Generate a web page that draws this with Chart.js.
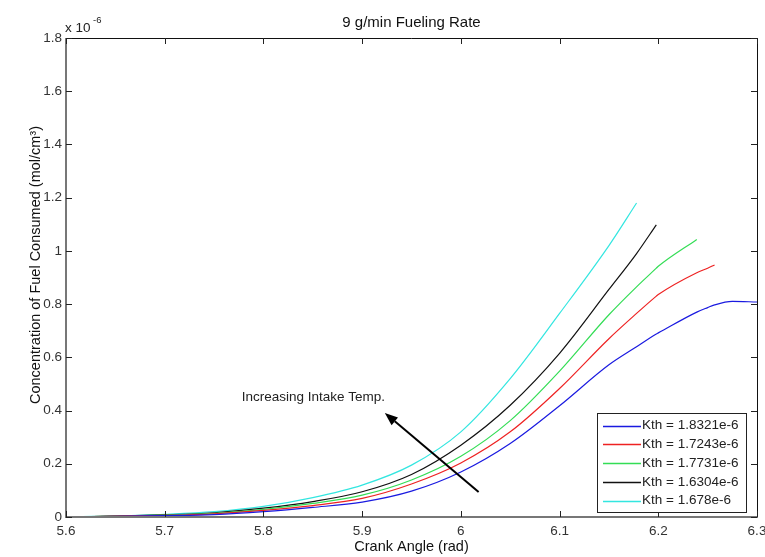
<!DOCTYPE html>
<html>
<head>
<meta charset="utf-8">
<script src="https://cdn.jsdelivr.net/npm/chart.js@4.4.1/dist/chart.umd.min.js"></script>
<style>
    html, body { margin: 0; padding: 0; background: #fff; }
    canvas { display: block; }
</style>
</head>
<body>
<canvas id="fuel-chart" width="765" height="557"></canvas>
<script>
// crank angle (rad) and fuel consumed (x 1e-6 mol/cm^3)
let crank_angle = [5.6, 5.65, 5.7, 5.75, 5.8, 5.85, 5.9, 5.95, 6.0, 6.05, 6.1, 6.15, 6.178, 6.198, 6.2, 6.239, 6.25, 6.257, 6.275, 6.3];
let kth_18321 = [0, 0.002, 0.005, 0.009, 0.02, 0.036, 0.056, 0.097, 0.169, 0.276, 0.418, 0.572, 0.64, 0.688, 0.692, 0.77, 0.787, 0.797, 0.81, 0.808];
let kth_17243 = [0, 0.003, 0.006, 0.012, 0.025, 0.043, 0.07, 0.124, 0.203, 0.32, 0.483, 0.67, 0.765, 0.83, 0.836, 0.918, 0.935, 0.947, null, null];
let kth_17731 = [0, 0.003, 0.007, 0.014, 0.029, 0.051, 0.082, 0.139, 0.228, 0.362, 0.548, 0.76, 0.865, 0.935, 0.942, 1.043, null, null, null, null];
let kth_16304 = [0, 0.003, 0.008, 0.016, 0.033, 0.058, 0.095, 0.16, 0.27, 0.42, 0.615, 0.855, 0.99, 1.098, null, null, null, null, null, null];
let kth_1678 = [0, 0.004, 0.01, 0.02, 0.04, 0.073, 0.12, 0.195, 0.32, 0.52, 0.765, 1.02, 1.18, null, null, null, null, null, null, null];

let series_labels = ['Kth = 1.8321e-6', 'Kth = 1.7243e-6', 'Kth = 1.7731e-6', 'Kth = 1.6304e-6', 'Kth = 1.678e-6'];
let series_colors = ['#1a1ae0', '#ee2222', '#33dd55', '#111111', '#33e6e0'];
let series_values = [kth_18321, kth_17243, kth_17731, kth_16304, kth_1678];

let x_ticks = [5.6, 5.7, 5.8, 5.9, 6.0, 6.1, 6.2, 6.3];
let y_ticks = [0, 0.2, 0.4, 0.6, 0.8, 1.0, 1.2, 1.4, 1.6, 1.8];

// arrow: tail -> head, and annotation start
let arrow_tail = [6.018, 0.094];
let arrow_head = [5.923, 0.391];
let note_pos = [5.778, 0.451];

const FONT = '"Liberation Sans", Arial, Helvetica, sans-serif';

function toPoints(values) {
    let points = [];
    values.forEach((v, i) => {
        if (v !== null) points.push({ x: crank_angle[i], y: v });
    });
    return points;
}

function fmtTick(v) {
    return String(Number(v.toFixed(1)));
}

const matlabAxes = {
    id: 'matlabAxes',
    afterDatasetsDraw(chart) {
        const ctx = chart.ctx;
        const a = chart.chartArea;
        const sx = chart.scales.x;
        const sy = chart.scales.y;
        ctx.save();

        // box
        ctx.lineWidth = 1;
        ctx.strokeStyle = '#111';
        ctx.beginPath();
        ctx.moveTo(a.left, a.top + 0.5);
        ctx.lineTo(a.right + 0.5, a.top + 0.5);
        ctx.lineTo(a.right + 0.5, a.bottom);
        ctx.stroke();
        ctx.lineWidth = 2;
        ctx.strokeStyle = '#777';
        ctx.beginPath();
        ctx.moveTo(a.left, a.top);
        ctx.lineTo(a.left, a.bottom);
        ctx.lineTo(a.right + 1, a.bottom);
        ctx.stroke();

        // inward ticks on all four sides
        ctx.lineWidth = 1;
        ctx.strokeStyle = '#222';
        ctx.beginPath();
        x_ticks.forEach(t => {
            let px = Math.round(sx.getPixelForValue(t)) + 0.5;
            ctx.moveTo(px, a.bottom); ctx.lineTo(px, a.bottom - 6);
            ctx.moveTo(px, a.top); ctx.lineTo(px, a.top + 6);
        });
        y_ticks.forEach(t => {
            let py = Math.round(sy.getPixelForValue(t)) + 0.5;
            ctx.moveTo(a.left, py); ctx.lineTo(a.left + 6, py);
            ctx.moveTo(a.right, py); ctx.lineTo(a.right - 6, py);
        });
        ctx.stroke();

        // exponent
        ctx.fillStyle = '#222';
        ctx.textBaseline = 'alphabetic';
        ctx.textAlign = 'left';
        ctx.font = '13.5px ' + FONT;
        ctx.fillText('x 10', a.left - 1, a.top - 6);
        ctx.font = '9.5px ' + FONT;
        ctx.fillText('-6', a.left + 27, a.top - 15);

        // y axis title
        ctx.save();
        ctx.translate(36, 265);
        ctx.rotate(-Math.PI / 2);
        ctx.textAlign = 'center';
        ctx.textBaseline = 'middle';
        ctx.font = '14.5px ' + FONT;
        ctx.fillStyle = '#111';
        ctx.fillText('Concentration of Fuel Consumed (mol/cm\u00b3)', 0, 0);
        ctx.restore();

        // annotation text + arrow
        ctx.font = '13.5px ' + FONT;
        ctx.fillStyle = '#222';
        ctx.textBaseline = 'middle';
        ctx.fillText('Increasing Intake Temp.', sx.getPixelForValue(note_pos[0]), sy.getPixelForValue(note_pos[1]));

        let x1 = sx.getPixelForValue(arrow_tail[0]), y1 = sy.getPixelForValue(arrow_tail[1]);
        let x2 = sx.getPixelForValue(arrow_head[0]), y2 = sy.getPixelForValue(arrow_head[1]);
        let ang = Math.atan2(y2 - y1, x2 - x1);
        let hl = 13, hw = 5;
        let bx = x2 - hl * Math.cos(ang), by = y2 - hl * Math.sin(ang);
        ctx.strokeStyle = '#000';
        ctx.lineWidth = 2;
        ctx.beginPath();
        ctx.moveTo(x1, y1);
        ctx.lineTo(bx, by);
        ctx.stroke();
        ctx.fillStyle = '#000';
        ctx.beginPath();
        ctx.moveTo(x2, y2);
        ctx.lineTo(bx + hw * Math.sin(ang), by - hw * Math.cos(ang));
        ctx.lineTo(bx - hw * Math.sin(ang), by + hw * Math.cos(ang));
        ctx.closePath();
        ctx.fill();

        // legend box (bottom right)
        let lx = 597, ly = 413, lw = 149, lh = 99;
        ctx.fillStyle = '#fff';
        ctx.fillRect(lx, ly, lw, lh);
        ctx.strokeStyle = '#222';
        ctx.lineWidth = 1;
        ctx.strokeRect(lx + 0.5, ly + 0.5, lw, lh);
        ctx.font = '13.5px ' + FONT;
        ctx.textBaseline = 'middle';
        chart.data.datasets.forEach((ds, i) => {
            let ry = ly + 12.5 + i * 18.8;
            ctx.strokeStyle = ds.borderColor;
            ctx.lineWidth = 1.3;
            ctx.beginPath();
            ctx.moveTo(lx + 6, Math.round(ry) + 0.5);
            ctx.lineTo(lx + 44, Math.round(ry) + 0.5);
            ctx.stroke();
            ctx.fillStyle = '#222';
            ctx.fillText(ds.label, lx + 45, ry);
        });

        ctx.restore();
    }
};

let fuelChart = document.getElementById('fuel-chart').getContext('2d');

let fuel = new Chart(fuelChart, {
    type: 'line',
    data: {
        datasets: series_values.map((vals, i) => ({
            label: series_labels[i],
            data: toPoints(vals),
            borderColor: series_colors[i],
            backgroundColor: series_colors[i],
            borderWidth: 1.2,
            pointRadius: 0,
            cubicInterpolationMode: 'monotone',
            fill: false
        }))
    },
    options: {
        responsive: false,
        animation: false,
        devicePixelRatio: 1,
        layout: { padding: { left: 0, right: 8, top: 0, bottom: 0 } },
        plugins: {
            legend: { display: false },
            tooltip: { enabled: false },
            title: {
                display: true,
                fullSize: false,
                text: '9 g/min Fueling Rate',
                color: '#111',
                font: { family: FONT, size: 15, weight: 'normal' },
                padding: { top: 14, bottom: 6 }
            }
        },
        scales: {
            x: {
                type: 'linear',
                min: 5.6,
                max: 6.3,
                afterBuildTicks: (scale) => { scale.ticks = x_ticks.map(v => ({ value: v })); },
                afterFit: (scale) => {
                    scale.height = 40;
                    scale.paddingLeft = 0;
                    scale.paddingRight = 0;
                },
                ticks: {
                    callback: (v) => fmtTick(v),
                    color: '#333',
                    font: { family: FONT, size: 13.5 },
                    padding: 6,
                    maxRotation: 0,
                    autoSkip: false
                },
                grid: { display: false, drawTicks: false },
                border: { display: false },
                title: {
                    display: true,
                    text: 'Crank Angle (rad)',
                    color: '#111',
                    font: { family: FONT, size: 14.5 },
                    padding: { top: 0, bottom: 1 }
                }
            },
            y: {
                min: 0,
                max: 1.8,
                afterBuildTicks: (scale) => { scale.ticks = y_ticks.map(v => ({ value: v })); },
                afterFit: (scale) => {
                    scale.width = 66;
                    scale.paddingTop = 0;
                    scale.paddingBottom = 0;
                },
                ticks: {
                    callback: (v) => fmtTick(v),
                    color: '#333',
                    font: { family: FONT, size: 13.5 },
                    padding: 4,
                    autoSkip: false
                },
                grid: { display: false, drawTicks: false },
                border: { display: false }
            }
        }
    },
    plugins: [matlabAxes]
});
</script>
</body>
</html>
